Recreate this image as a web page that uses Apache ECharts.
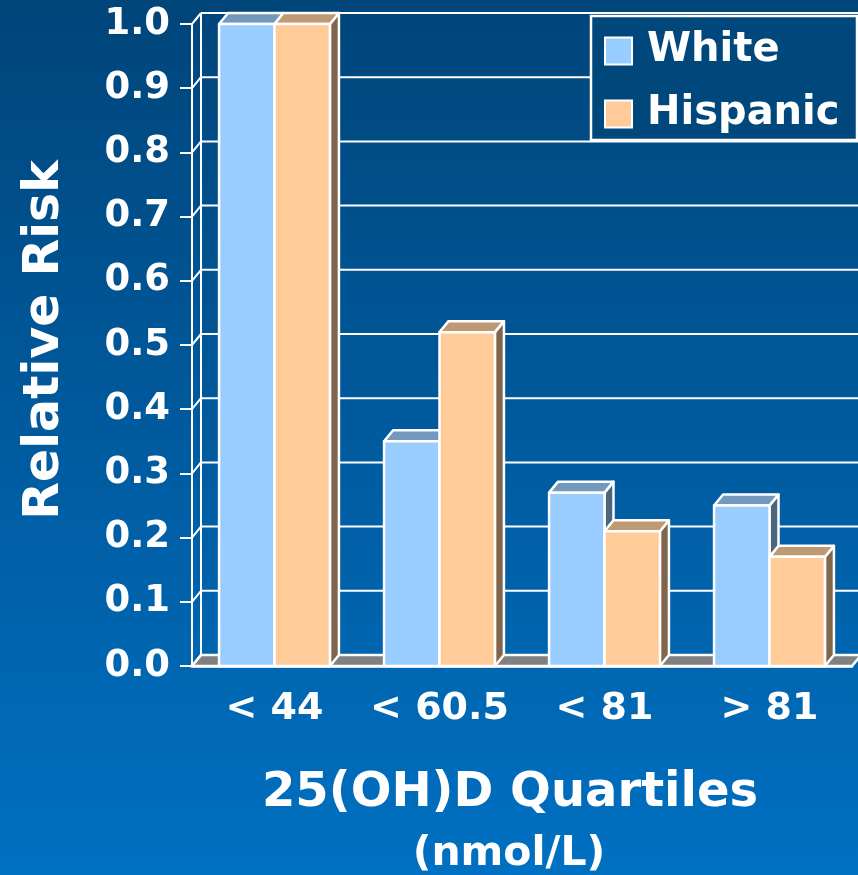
<!DOCTYPE html>
<html>
<head>
<meta charset="utf-8">
<title>Relative Risk by 25(OH)D Quartiles</title>
<script src="https://cdn.jsdelivr.net/npm/echarts@6/dist/echarts.min.js"></script>
<style>
  html, body { margin: 0; padding: 0; background: #00457a; }
  #chart { width: 858px; height: 875px; }
</style>
</head>
<body>
<div id="chart"></div>
<script>
// Quartile categories of serum 25(OH)D (nmol/L)
const categories = ['< 44', '< 60.5', '< 81', '> 81'];
// Relative risk per quartile, by group
const whiteRisk = [1.0, 0.35, 0.27, 0.25];
const hispanicRisk = [1.0, 0.52, 0.21, 0.17];
// Value-axis ticks
const riskTicks = [0.0, 0.1, 0.2, 0.3, 0.4, 0.5, 0.6, 0.7, 0.8, 0.9, 1.0];

const FONT = 'DejaVu Sans';
const DEPTH_X = 9;     // oblique depth of the 3-D look
const DEPTH_Y = -11;
const BAR_FRACTION = 0.336; // each bar's share of a category band
const EDGE = '#ffffff';

const faceColors = {
  White:    { front: '#99ccff', top: '#7399bf', side: '#4c6680' },
  Hispanic: { front: '#ffcc99', top: '#bf9973', side: '#7f664c' }
};

// Back wall gridlines, left side wall and grey floor of the 3-D frame
function renderFrame(params, api) {
  const cs = params.coordSys;
  const left = cs.x, right = cs.x + cs.width;
  const y0 = api.coord([0, 0])[1];
  const y1 = api.coord([0, riskTicks[riskTicks.length - 1]])[1];
  const line = { stroke: EDGE, lineWidth: 2 };
  const children = [];
  children.push({
    type: 'polygon',
    shape: { points: [[left, y0], [right, y0], [right + DEPTH_X, y0 + DEPTH_Y], [left + DEPTH_X, y0 + DEPTH_Y]] },
    style: { fill: '#808080', stroke: EDGE, lineWidth: 2.5 }
  });
  riskTicks.forEach(function (t) {
    const y = api.coord([0, t])[1];
    children.push({
      type: 'line',
      shape: { x1: left + DEPTH_X, y1: y + DEPTH_Y, x2: right + DEPTH_X + 20, y2: y + DEPTH_Y },
      style: line
    });
    children.push({
      type: 'line',
      shape: { x1: left, y1: y, x2: left + DEPTH_X, y2: y + DEPTH_Y },
      style: line
    });
  });
  children.push({
    type: 'line',
    shape: { x1: left + DEPTH_X, y1: y0 + DEPTH_Y, x2: left + DEPTH_X, y2: y1 + DEPTH_Y },
    style: line
  });
  return { type: 'group', children: children };
}

// A 3-D bar: front face, top face and right side face
function barRenderer(name, slot) {
  const c = faceColors[name];
  return function (params, api) {
    const idx = api.value(0);
    const val = api.value(1);
    const base = api.coord([idx, 0]);
    const top = api.coord([idx, val]);
    const w = api.size([1, 0])[0] * BAR_FRACTION;
    const x0 = base[0] + (slot === 0 ? -w : 0);
    const x1 = x0 + w;
    const yT = top[1], yB = base[1];
    const st = function (fill) { return { fill: fill, stroke: EDGE, lineWidth: 2.5, lineJoin: 'round' }; };
    return {
      type: 'group',
      children: [
        {
          type: 'polygon',
          shape: { points: [[x1, yT], [x1 + DEPTH_X, yT + DEPTH_Y], [x1 + DEPTH_X, yB + DEPTH_Y], [x1, yB]] },
          style: st(c.side)
        },
        {
          type: 'polygon',
          shape: { points: [[x0, yT], [x1, yT], [x1 + DEPTH_X, yT + DEPTH_Y], [x0 + DEPTH_X, yT + DEPTH_Y]] },
          style: st(c.top)
        },
        {
          type: 'rect',
          shape: { x: x0, y: yT, width: w, height: yB - yT },
          style: st(c.front)
        }
      ]
    };
  };
}

const chart = echarts.init(document.getElementById('chart'), null, { renderer: 'canvas' });

chart.setOption({
  animation: false,
  backgroundColor: {
    type: 'linear', x: 0, y: 0, x2: 0, y2: 1,
    colorStops: [
      { offset: 0, color: '#00457a' },
      { offset: 1, color: '#0070c2' }
    ]
  },
  textStyle: { fontFamily: FONT },
  grid: { left: 192, top: 24, width: 660, height: 642, containLabel: false },
  xAxis: {
    type: 'category',
    data: categories,
    axisLine: { show: true, lineStyle: { color: EDGE, width: 2.5 } },
    axisTick: { show: false },
    axisLabel: {
      interval: 0,
      color: '#ffffff', fontFamily: FONT, fontWeight: 'bold', fontSize: 38, margin: 24
    },
    splitLine: { show: false }
  },
  yAxis: {
    type: 'value',
    min: 0, max: 1, interval: 0.1,
    axisLine: { show: true, lineStyle: { color: EDGE, width: 2 } },
    axisTick: { show: true, length: 12, lineStyle: { color: EDGE, width: 2 } },
    axisLabel: {
      color: '#ffffff', fontFamily: FONT, fontWeight: 'bold', fontSize: 37, margin: 22,
      formatter: function (v) { return v.toFixed(1); }
    },
    splitLine: { show: false }
  },
  legend: {
    orient: 'vertical',
    left: 591, top: 16,
    padding: [14, 0, 6, 13],
    itemWidth: 27, itemHeight: 27, itemGap: 21,
    icon: 'rect',
    z: 10,
    data: ['White', 'Hispanic'],
    itemStyle: { borderColor: '#ffffff', borderWidth: 2 },
    textStyle: {
      color: '#ffffff', fontFamily: FONT, fontWeight: 'bold', fontSize: 40,
      lineHeight: 42, padding: [0, 0, 0, 10]
    }
  },
  graphic: [
    {
      type: 'rect', z: 5,
      shape: { x: 591, y: 16, width: 266, height: 124 },
      style: { fill: '#00477c', stroke: '#ffffff', lineWidth: 2.5 }
    },
    {
      type: 'text', x: 45, y: 340, rotation: Math.PI / 2,
      style: {
        text: 'Relative Risk', fill: '#ffffff', align: 'center', verticalAlign: 'middle',
        font: 'bold 49px "DejaVu Sans"'
      }
    },
    {
      type: 'text', x: 510, y: 794,
      style: {
        text: '25(OH)D Quartiles', fill: '#ffffff', align: 'center', verticalAlign: 'middle',
        font: 'bold 48px "DejaVu Sans"'
      }
    },
    {
      type: 'text', x: 509, y: 854,
      style: {
        text: '(nmol/L)', fill: '#ffffff', align: 'center', verticalAlign: 'middle',
        font: 'bold 41px "DejaVu Sans"'
      }
    }
  ],
  series: [
    {
      name: 'frame',
      type: 'custom',
      z: 1,
      clip: false,
      silent: true,
      renderItem: renderFrame,
      data: [[0, 0]]
    },
    {
      name: 'White',
      type: 'custom',
      z: 3,
      clip: false,
      itemStyle: { color: faceColors.White.front },
      renderItem: barRenderer('White', 0),
      data: whiteRisk.map(function (v, i) { return [i, v]; })
    },
    {
      name: 'Hispanic',
      type: 'custom',
      z: 3,
      clip: false,
      itemStyle: { color: faceColors.Hispanic.front },
      renderItem: barRenderer('Hispanic', 1),
      data: hispanicRisk.map(function (v, i) { return [i, v]; })
    }
  ]
});
</script>
</body>
</html>
